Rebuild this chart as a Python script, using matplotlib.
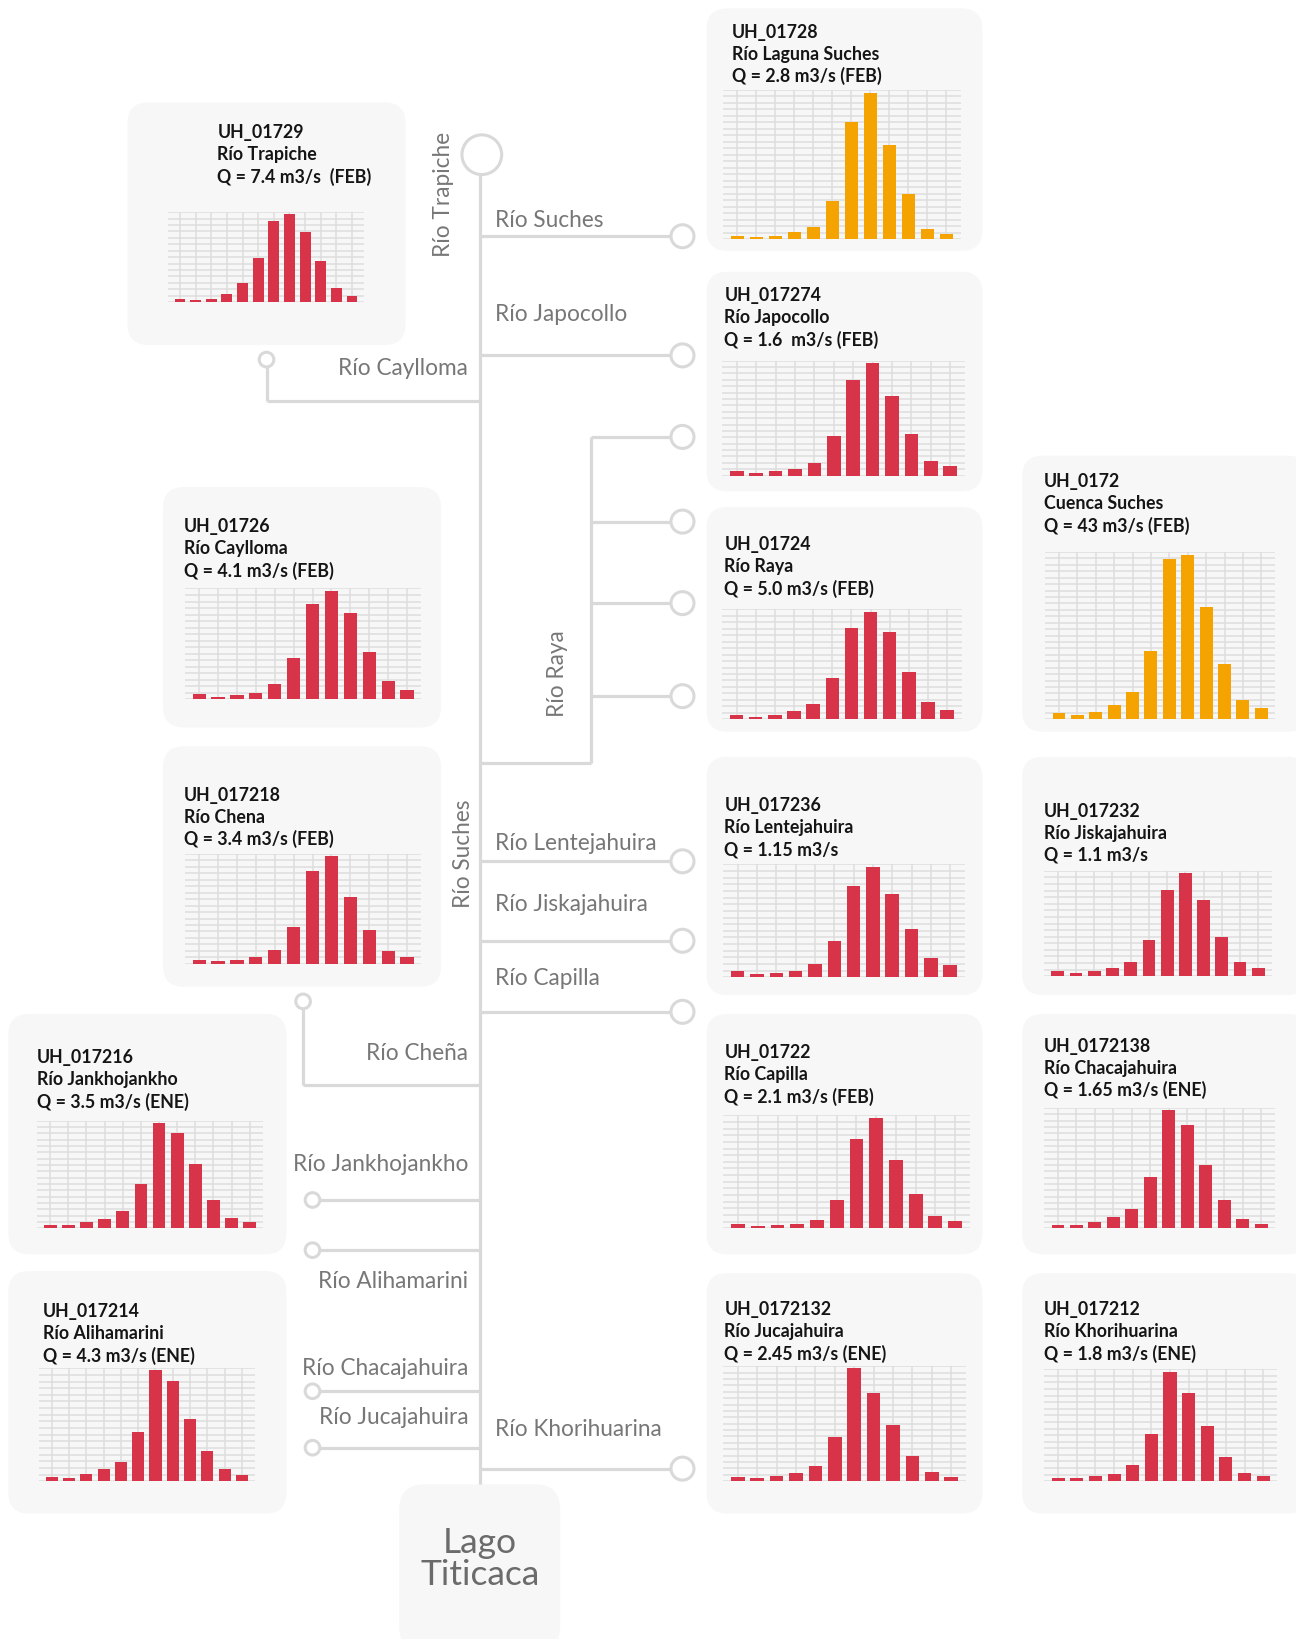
#!/usr/bin/python3

# esquema de la cuenca Suches con caudales medios mensuales por unidad hidrografica

import numpy as np
import matplotlib.pyplot as plt
from matplotlib.patches import FancyBboxPatch, Circle

plt.rcParams['font.family'] = ['Lato', 'DejaVu Sans']

# meses del año hidrologico (JUL..JUN)
months = ['JUL', 'AGO', 'SEP', 'OCT', 'NOV', 'DIC', 'ENE', 'FEB', 'MAR', 'ABR', 'MAY', 'JUN']

# caudales mensuales (m3/s)
q_01729 = [0.28, 0.19, 0.28, 0.72, 1.64, 3.73, 6.79, 7.4, 5.87, 3.45, 1.20, 0.53]
q_01728 = [0.064, 0.045, 0.064, 0.14, 0.24, 0.73, 2.25, 2.8, 1.80, 0.87, 0.20, 0.10]
q_017274 = [0.07, 0.04, 0.06, 0.10, 0.18, 0.56, 1.36, 1.6, 1.13, 0.59, 0.21, 0.13]
q_01724 = [0.21, 0.12, 0.21, 0.40, 0.72, 1.92, 4.22, 5.0, 4.03, 2.19, 0.81, 0.44]
q_0172 = [1.5, 1.2, 2.0, 3.6, 7.0, 17.9, 42.0, 43.0, 29.4, 14.5, 5.1, 2.8]
q_01726 = [0.19, 0.10, 0.15, 0.23, 0.57, 1.56, 3.59, 4.1, 3.25, 1.78, 0.68, 0.34]
q_017218 = [0.13, 0.09, 0.13, 0.22, 0.44, 1.16, 2.93, 3.4, 2.11, 1.07, 0.41, 0.22]
q_017236 = [0.065, 0.034, 0.045, 0.065, 0.14, 0.375, 0.95, 1.15, 0.87, 0.50, 0.20, 0.127]
q_017232 = [0.056, 0.035, 0.056, 0.087, 0.15, 0.39, 0.92, 1.1, 0.81, 0.42, 0.15, 0.087]
q_017216 = [0.10, 0.10, 0.19, 0.32, 0.58, 1.47, 3.5, 3.17, 2.12, 0.94, 0.35, 0.19]
q_01722 = [0.08, 0.044, 0.063, 0.08, 0.16, 0.53, 1.69, 2.1, 1.29, 0.65, 0.23, 0.14]
q_0172138 = [0.047, 0.047, 0.089, 0.16, 0.27, 0.71, 1.65, 1.44, 0.89, 0.40, 0.13, 0.06]
q_017214 = [0.16, 0.12, 0.27, 0.47, 0.74, 1.92, 4.3, 3.91, 2.43, 1.18, 0.47, 0.24]
q_0172132 = [0.08, 0.058, 0.12, 0.17, 0.34, 0.97, 2.45, 1.91, 1.21, 0.54, 0.19, 0.10]
q_017212 = [0.06, 0.044, 0.077, 0.11, 0.27, 0.78, 1.8, 1.44, 0.91, 0.40, 0.13, 0.077]

RED = '#d7344a'
ORANGE = '#f5a300'
LINE = '#d9d9d9'
BOX = '#f7f7f7'
LABEL = '#777777'

# the layout is worked out in a 1240 x 1568 grid (y going down)
W, H = 1240, 1568

fig = plt.figure(figsize=(12.96, 16.39), dpi=100)
bg = fig.add_axes([0, 0, 1, 1])
bg.set_xlim(0, W)
bg.set_ylim(H, 0)
bg.axis('off')


def box(x0, y0, x1, y1, r=20):
    bg.add_patch(FancyBboxPatch((x0, y0), x1 - x0, y1 - y0,
                                boxstyle='round,pad=0,rounding_size=%d' % r,
                                fc=BOX, ec='none', zorder=0))


def bar_chart(rect, values, color):
    x0, y0, x1, y1 = rect
    ax = fig.add_axes([x0 / W, 1 - y1 / H, (x1 - x0) / W, (y1 - y0) / H])
    ax.bar(range(len(values)), values, width=0.7, color=color, zorder=3)
    top = max(values) * 1.02
    ax.set_xlim(-0.75, 11.75)
    ax.set_ylim(0, top)
    n = int(round((y1 - y0) / 6.2))
    ax.set_yticks(np.linspace(0, top, n + 1))
    ax.set_xticks(range(len(values)))
    ax.grid(True, color='#dddddd', lw=1.1)
    ax.set_axisbelow(True)
    ax.tick_params(length=0, labelleft=False, labelbottom=False)
    for s in ax.spines.values():
        s.set_visible(False)
    ax.patch.set_alpha(0)
    return ax


# (codigo, nombre, texto caudal, datos, color, caja, texto xy, grafico)
panels = [
    ('UH_01729', 'Río Trapiche', 'Q = 7.4 m3/s  (FEB)', q_01729, RED,
     (122, 98, 388, 330), (208, 127), (161, 203, 348, 289)),
    ('UH_01728', 'Río Laguna Suches', 'Q = 2.8 m3/s (FEB)', q_01728, ORANGE,
     (676, 8, 940, 240), (700, 31), (692, 86, 919, 229)),
    ('UH_017274', 'Río Japocollo', 'Q = 1.6  m3/s (FEB)', q_017274, RED,
     (676, 260, 940, 470), (693, 283), (691, 345, 923, 455)),
    ('UH_01724', 'Río Raya', 'Q = 5.0 m3/s (FEB)', q_01724, RED,
     (676, 485, 940, 700), (693, 521), (691, 583, 920, 688)),
    ('UH_0172', 'Cuenca Suches', 'Q = 43 m3/s (FEB)', q_0172, ORANGE,
     (978, 436, 1252, 700), (999, 461), (1000, 528, 1220, 688)),
    ('UH_01726', 'Río Caylloma', 'Q = 4.1 m3/s (FEB)', q_01726, RED,
     (156, 466, 422, 696), (176, 504), (177, 563, 403, 669)),
    ('UH_017218', 'Río Chena', 'Q = 3.4 m3/s (FEB)', q_017218, RED,
     (156, 714, 422, 944), (176, 761), (177, 817, 403, 922)),
    ('UH_017236', 'Río Lentejahuira', 'Q = 1.15 m3/s', q_017236, RED,
     (676, 724, 940, 952), (693, 771), (692, 827, 923, 935)),
    ('UH_017232', 'Río Jiskajahuira', 'Q = 1.1 m3/s', q_017232, RED,
     (978, 724, 1252, 952), (999, 776), (999, 833, 1217, 934)),
    ('UH_017216', 'Río Jankhojankho', 'Q = 3.5 m3/s (ENE)', q_017216, RED,
     (8, 970, 274, 1200), (35, 1012), (35, 1072, 252, 1175)),
    ('UH_01722', 'Río Capilla', 'Q = 2.1 m3/s (FEB)', q_01722, RED,
     (676, 970, 940, 1200), (693, 1007), (692, 1067, 928, 1175)),
    ('UH_0172138', 'Río Chacajahuira', 'Q = 1.65 m3/s (ENE)', q_0172138, RED,
     (978, 970, 1252, 1200), (999, 1001), (999, 1060, 1220, 1175)),
    ('UH_017214', 'Río Alihamarini', 'Q = 4.3 m3/s (ENE)', q_017214, RED,
     (8, 1216, 274, 1448), (41, 1255), (37, 1309, 244, 1417)),
    ('UH_0172132', 'Río Jucajahuira', 'Q = 2.45 m3/s (ENE)', q_0172132, RED,
     (676, 1218, 940, 1448), (693, 1253), (692, 1307, 924, 1417)),
    ('UH_017212', 'Río Khorihuarina', 'Q = 1.8 m3/s (ENE)', q_017212, RED,
     (978, 1218, 1252, 1448), (999, 1253), (999, 1310, 1222, 1417)),
]

for code, name, qtxt, vals, color, bx, txy, rect in panels:
    box(*bx)
    for i, s in enumerate([code, name, qtxt]):
        bg.text(txy[0], txy[1] + 21 * i, s, fontsize=12.8, fontweight='bold',
                color='#151515', ha='left', va='center', zorder=3)
    bar_chart(rect, vals, color)

# lago
box(382, 1420, 536, 1580, r=24)
bg.text(459, 1491, 'Lago\nTiticaca', fontsize=25.5, color='#6b6b6b',
        ha='center', va='center', linespacing=1.0, zorder=3)

# tronco y ramas
segs = [
    ((459, 459), (167, 1420)),
    ((459, 642), (226, 226)),
    ((459, 642), (340, 340)),
    ((459, 255), (384, 384)), ((255, 255), (384, 351)),
    ((459, 565), (730, 730)), ((565, 565), (730, 418)),
    ((565, 642), (418, 418)), ((565, 642), (499, 499)),
    ((565, 642), (577, 577)), ((565, 642), (666, 666)),
    ((459, 642), (824, 824)),
    ((459, 642), (900, 900)),
    ((459, 642), (968, 968)),
    ((459, 290), (1038, 1038)), ((290, 290), (1038, 965)),
    ((459, 306), (1148, 1148)),
    ((459, 306), (1196, 1196)),
    ((459, 306), (1331, 1331)),
    ((459, 306), (1385, 1385)),
    ((459, 642), (1405, 1405)),
]
for xs, ys in segs:
    bg.plot(xs, ys, color=LINE, lw=2.3, solid_capstyle='butt', zorder=1)

circles = [(461, 148, 19)]
circles += [(653, y, 11) for y in [226, 340, 418, 499, 577, 666, 824, 900, 968, 1405]]
circles += [(255, 344, 7), (290, 958, 7)]
circles += [(299, y, 7) for y in [1148, 1196, 1331, 1385]]
for cx, cy, r in circles:
    bg.add_patch(Circle((cx, cy), r, fc='white', ec=LINE, lw=2.2, zorder=2))

# nombres de rios
left_labels = [('Río Suches', 211), ('Río Japocollo', 301), ('Río Lentejahuira', 807),
               ('Río Jiskajahuira', 865), ('Río Capilla', 936), ('Río Khorihuarina', 1368)]
for s, y in left_labels:
    bg.text(474, y, s, fontsize=16.3, color=LABEL, ha='left', va='center', zorder=3)

right_labels = [('Río Caylloma', 353), ('Río Cheña', 1008), ('Río Jankhojankho', 1114),
                ('Río Alihamarini', 1226), ('Río Chacajahuira', 1309), ('Río Jucajahuira', 1356)]
for s, y in right_labels:
    bg.text(448, y, s, fontsize=16.3, color=LABEL, ha='right', va='center', zorder=3)

for s, x, y in [('Río Trapiche', 424, 186), ('Río Raya', 533, 644), ('Río Suches', 443, 817)]:
    bg.text(x, y, s, fontsize=16.3, color=LABEL, rotation=90,
            ha='center', va='center', zorder=3)

fig.savefig('out.png', dpi=100, facecolor='white')
